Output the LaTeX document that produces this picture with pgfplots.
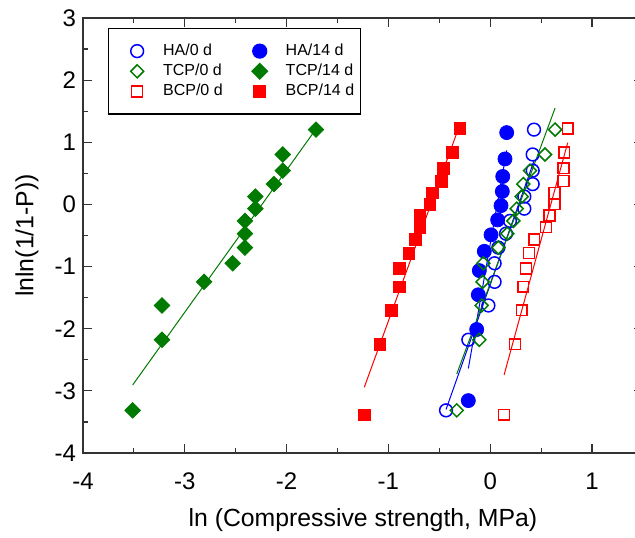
\documentclass[border=0pt]{standalone}
\usepackage{fontspec}
\setmainfont{Liberation Sans}
\usepackage{pgfplots}
\pgfplotsset{compat=1.18}
\definecolor{cblue}{RGB}{0,0,255}
\definecolor{cgreen}{RGB}{0,122,0}
\definecolor{cred}{RGB}{255,0,0}
\pgfplotsset{myleg/.style={legend image code/.code={\path[draw=none,fill=none] (0pt,-1pt) rectangle (24.1pt,1pt);\draw[mark repeat=2,mark phase=2,##1] plot coordinates {(0pt,0pt) (12.3pt,0pt) (24.1pt,0pt)};}}}
\begin{document}
\begin{tikzpicture}
\begin{axis}[
 width=280pt, height=217.5pt, scale only axis,
 xmin=-4, xmax=1.5, ymin=-4, ymax=3,
 xtick={-4,-3,-2,-1,0,1}, ytick={-4,-3,-2,-1,0,1,2,3},
 minor x tick num=1, minor y tick num=1,
 tick align=inside,
 major tick length=4.5pt, minor tick length=2.6pt,
 axis line style={line width=0.7pt, draw=black!80},
 every tick/.style={line width=0.6pt, black!80},
 tick label style={font=\fontsize{12}{14}\selectfont},
 /pgf/number format/assume math mode=true,
 xticklabel style={yshift=-6.5pt},
 xlabel={ln (Compressive strength, MPa)},
 ylabel={lnln(1/1-P))},
 label style={font=\fontsize{12.4}{14}\selectfont},
 xlabel style={at={(axis description cs:0.5,-0.154)}, anchor=center},
 ylabel style={at={(axis description cs:-0.1,0.5)}, anchor=center},
 legend columns=2,
 legend cell align=left,
 legend style={at={(0.0446,0.977)}, anchor=north west,
   font=\fontsize{8}{9.5}\selectfont, draw=black, line width=0.6pt,
   inner xsep=2pt, inner ysep=6.4pt, row sep=0.4pt,
   nodes={inner sep=1.2pt},
   /tikz/every even column/.append style={column sep=5pt}},
]
% HA/0 d
\addplot[only marks, myleg, mark=o, mark size=3.2pt, cblue, mark options={line width=0.75pt}] coordinates {
(-0.434,-3.314) (-0.215,-2.178) (-0.018,-1.626) (0.043,-1.246) (0.043,-0.947)
(0.080,-0.695) (0.155,-0.471) (0.194,-0.265) (0.335,-0.068) (0.335,0.127)
(0.417,0.327) (0.417,0.544) (0.417,0.804) (0.430,1.204)};
\addlegendentry{HA/0 d}
% HA/14 d
\addplot[only marks, myleg, mark=*, mark size=3.5pt, cblue, mark options={fill=cblue}] coordinates {
(-0.215,-3.157) (-0.133,-2.013) (-0.117,-1.454) (-0.107,-1.065) (-0.058,-0.755)
(0.008,-0.489) (0.073,-0.249) (0.106,-0.019) (0.119,0.209) (0.123,0.450)
(0.145,0.732) (0.162,1.156)};
\addlegendentry{HA/14 d}
% TCP/0 d
\addplot[only marks, myleg, mark=square, mark size=2.3pt, cgreen, mark options={rotate=45, line width=0.75pt}] coordinates {
(-0.329,-3.314) (-0.107,-2.178) (-0.084,-1.626) (-0.075,-1.246) (-0.068,-0.947)
(0.080,-0.695) (0.168,-0.471) (0.227,-0.265) (0.260,-0.068) (0.309,0.127)
(0.325,0.327) (0.391,0.544) (0.538,0.804) (0.637,1.204)};
\addlegendentry{TCP/0 d}
% TCP/14 d
\addplot[only marks, myleg, mark=square*, mark size=2.75pt, cgreen, mark options={rotate=45, fill=cgreen}] coordinates {
(-3.512,-3.314) (-3.224,-2.178) (-3.224,-1.626) (-2.811,-1.246) (-2.530,-0.947)
(-2.409,-0.695) (-2.409,-0.471) (-2.409,-0.265) (-2.307,-0.068) (-2.307,0.127)
(-2.124,0.327) (-2.038,0.544) (-2.038,0.804) (-1.711,1.204)};
\addlegendentry{TCP/14 d}
% BCP/0 d
\addplot[only marks, myleg, mark=square, mark size=2.7pt, cred, mark options={line width=0.75pt}] coordinates {
(0.136,-3.384) (0.244,-2.250) (0.309,-1.702) (0.325,-1.325) (0.352,-1.031)
(0.381,-0.784) (0.433,-0.566) (0.548,-0.367) (0.581,-0.179) (0.630,0.003)
(0.630,0.186) (0.719,0.375) (0.719,0.583) (0.728,0.834) (0.761,1.224)};
\addlegendentry{BCP/0 d}
% BCP/14 d
\addplot[only marks, myleg, mark=square*, mark size=2.9pt, cred, mark options={fill=cred}] coordinates {
(-1.237,-3.384) (-1.083,-2.250) (-0.968,-1.702) (-0.893,-1.325) (-0.893,-1.031)
(-0.798,-0.784) (-0.732,-0.566) (-0.690,-0.367) (-0.690,-0.179) (-0.591,0.003)
(-0.565,0.186) (-0.477,0.375) (-0.461,0.583) (-0.372,0.834) (-0.297,1.224)};
\addlegendentry{BCP/14 d}
% Weibull fit lines
\addplot[cblue, line width=0.5pt, no marks, forget plot] coordinates {(-0.434,-3.30) (0.430,0.70)};
\addplot[cblue, line width=0.5pt, no marks, forget plot] coordinates {(-0.215,-2.64) (0.162,0.87)};
\addplot[cgreen, line width=0.5pt, no marks, forget plot] coordinates {(-0.329,-2.73) (0.637,1.55)};
\addplot[cgreen, line width=0.5pt, no marks, forget plot] coordinates {(-3.512,-2.906) (-1.711,1.214)};
\addplot[cred, line width=0.5pt, no marks, forget plot] coordinates {(0.136,-2.745) (0.761,0.993)};
\addplot[cred, line width=0.5pt, no marks, forget plot] coordinates {(-1.237,-2.943) (-0.297,1.29)};
\coordinate (bbSW) at (axis cs:-4.815,-5.368);
\coordinate (bbNE) at (axis cs:1.422,3.29);
\end{axis}
\pgfresetboundingbox
\useasboundingbox (bbSW) rectangle (bbNE);
\end{tikzpicture}
\end{document}
